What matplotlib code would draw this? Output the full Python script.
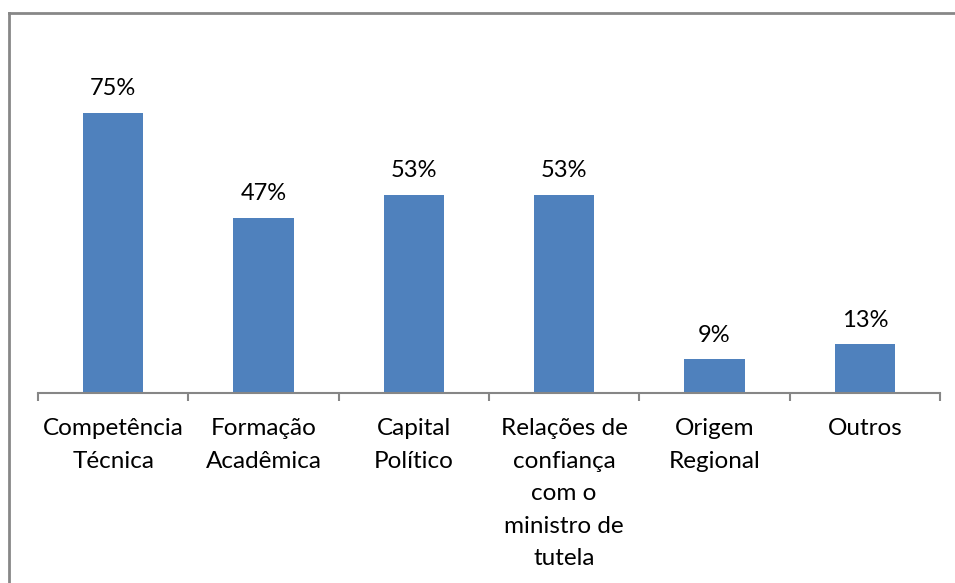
import numpy as np
import matplotlib
matplotlib.use('Agg')
import matplotlib.pyplot as plt
from matplotlib.lines import Line2D

# categories and values (share of respondents)
categories = ['Competência\nTécnica', 'Formação\nAcadêmica', 'Capital\nPolítico',
              'Relações de\nconfiança\ncom o\nministro de\ntutela', 'Origem\nRegional', 'Outros']
values = [0.75, 0.47, 0.53, 0.53, 0.09, 0.13]
value_labels = ['75%', '47%', '53%', '53%', '9%', '13%']

plt.rcParams['font.family'] = ['Lato', 'DejaVu Sans']

fig = plt.figure(figsize=(9.55, 5.83), dpi=100)
ax = fig.add_axes([38/955, 1 - 393/583, 902/955, 298.7/583])

x = np.arange(len(categories))
bars = ax.bar(x, values, width=0.4, color='#4f81bd')

for xi, v, lab in zip(x, values, value_labels):
    ax.annotate(lab, (xi, v), xytext=(0, 10), textcoords='offset points',
                ha='center', va='bottom', fontsize=17)

ax.set_xlim(-0.5, len(categories) - 0.5)
ax.set_ylim(0, 0.8)

# ticks at the category boundaries, labels in the middle
ax.set_xticks(np.arange(len(categories) + 1) - 0.5)
ax.set_xticklabels([])
ax.tick_params(axis='x', which='major', length=6, width=1.5, color='#868686', direction='out')
ax.set_xticks(x, minor=True)
ax.set_xticklabels(categories, minor=True, fontsize=17.5, linespacing=1.68)
ax.tick_params(axis='x', which='minor', length=0, pad=18)

ax.set_yticks([])
for s in ['top', 'right', 'left']:
    ax.spines[s].set_visible(False)
ax.spines['bottom'].set_color('#868686')
ax.spines['bottom'].set_linewidth(1.5)

# outer chart border (top and left edges visible)
fig.add_artist(Line2D([9/955, 1], [1 - 13/583, 1 - 13/583], color='#878787', lw=2))
fig.add_artist(Line2D([9/955, 9/955], [0, 1 - 13/583], color='#878787', lw=2))

fig.savefig('out.png', dpi=100)
